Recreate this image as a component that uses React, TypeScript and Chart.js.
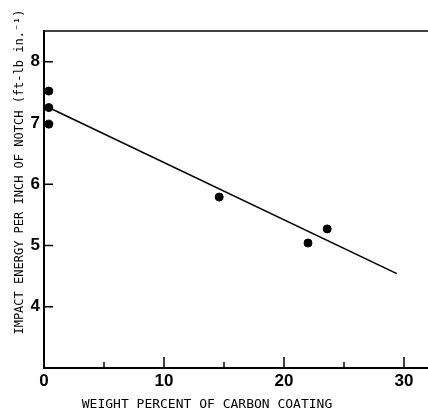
import React, { useEffect, useRef } from "react";
import { Chart, registerables } from "chart.js";

Chart.register(...registerables);

// Measured points
const carbonPct = [0.4, 0.4, 0.4, 14.6, 22.0, 23.6];
const impactEnergy = [7.52, 7.25, 6.98, 5.79, 5.04, 5.27];
// Fitted line end points
const fitX = [0.3, 29.4];
const fitY = [7.26, 4.54];
// Axis ticks
const xLabelTicks = [0, 10, 20, 30];
const xMajorTicks = [10, 20, 30];
const xMinorTicks = [5, 15, 25];
const yLabelTicks = [4, 5, 6, 7, 8];

const xTitle = "WEIGHT PERCENT OF CARBON COATING";
const yTitle = "IMPACT ENERGY PER INCH OF NOTCH (ft-lb in.\u207B\u00B9)";

const decorPlugin = {
  id: "decor",
  afterDraw(chart: any) {
    const { ctx, chartArea, scales } = chart;
    const xs = scales.x;
    const ys = scales.y;
    ctx.save();
    ctx.strokeStyle = "#000";
    // top frame line
    ctx.lineWidth = 1.3;
    ctx.beginPath();
    ctx.moveTo(chartArea.left, chartArea.top);
    ctx.lineTo(chartArea.right, chartArea.top);
    ctx.stroke();
    // inward ticks
    ctx.lineWidth = 1.5;
    ctx.beginPath();
    yLabelTicks.forEach((v) => {
      const y = ys.getPixelForValue(v);
      ctx.moveTo(chartArea.left, y);
      ctx.lineTo(chartArea.left + 9, y);
    });
    xMajorTicks.forEach((v) => {
      const x = xs.getPixelForValue(v);
      ctx.moveTo(x, chartArea.bottom);
      ctx.lineTo(x, chartArea.bottom - 11);
    });
    xMinorTicks.forEach((v) => {
      const x = xs.getPixelForValue(v);
      ctx.moveTo(x, chartArea.bottom);
      ctx.lineTo(x, chartArea.bottom - 6);
    });
    ctx.stroke();
    // titles
    ctx.fillStyle = "#000";
    ctx.textAlign = "center";
    ctx.textBaseline = "middle";
    ctx.font = "13px 'DejaVu Sans Mono'";
    ctx.fillText(xTitle, 207, 405);
    ctx.translate(20, 172);
    ctx.rotate(-Math.PI / 2);
    ctx.font = "12px 'DejaVu Sans Mono'";
    ctx.fillText(yTitle, 0, 0);
    ctx.restore();
  },
};

export default function App() {
  const canvasRef = useRef<HTMLCanvasElement | null>(null);

  useEffect(() => {
    if (!canvasRef.current) return;
    const chart = new Chart(canvasRef.current, {
      type: "scatter",
      data: {
        datasets: [
          {
            label: "Measured",
            data: carbonPct.map((x, i) => ({ x, y: impactEnergy[i] })),
            backgroundColor: "#000",
            borderColor: "#000",
            pointRadius: 4,
            showLine: false,
          },
          {
            label: "Fit",
            data: fitX.map((x, i) => ({ x, y: fitY[i] })),
            borderColor: "#000",
            borderWidth: 1.6,
            pointRadius: 0,
            showLine: true,
          },
        ],
      },
      plugins: [decorPlugin],
      options: {
        animation: false,
        responsive: false,
        layout: { autoPadding: false, padding: { top: 31, left: 0, right: 0, bottom: 0 } },
        plugins: {
          legend: { display: false },
          tooltip: { enabled: false },
        },
        scales: {
          x: {
            type: "linear",
            min: 0,
            max: 32,
            afterFit: (s: any) => {
              s.height = 46;
              s.paddingLeft = 0;
              s.paddingRight = 0;
            },
            afterBuildTicks: (s: any) => {
              s.ticks = xLabelTicks.map((v) => ({ value: v }));
            },
            grid: { display: false, drawTicks: false },
            border: { display: true, color: "#000", width: 2 },
            ticks: {
              padding: 3,
              color: "#000",
              maxRotation: 0,
              autoSkip: false,
              font: { family: "'Liberation Sans'", size: 17, weight: "bold" },
            },
          },
          y: {
            type: "linear",
            min: 3,
            max: 8.5,
            afterFit: (s: any) => {
              s.width = 44;
              s.paddingTop = 0;
              s.paddingBottom = 0;
            },
            afterBuildTicks: (s: any) => {
              s.ticks = yLabelTicks.map((v) => ({ value: v }));
            },
            grid: { display: false, drawTicks: false },
            border: { display: true, color: "#000", width: 2 },
            ticks: {
              padding: 4,
              color: "#000",
              autoSkip: false,
              font: { family: "'Liberation Sans'", size: 17, weight: "bold" },
            },
          },
        },
      },
    } as any);
    return () => chart.destroy();
  }, []);

  return (
    <div style={{ position: "fixed", left: 0, top: 0, width: 428, height: 414, background: "#fff" }}>
      <canvas ref={canvasRef} width={428} height={414} style={{ width: 428, height: 414 }} />
    </div>
  );
}
